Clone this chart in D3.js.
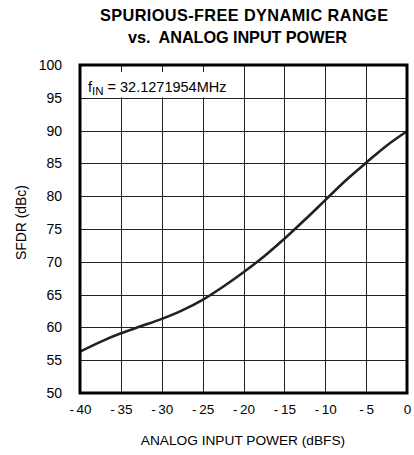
<!DOCTYPE html>
<html><head><meta charset="utf-8">
<script src="https://cdn.jsdelivr.net/npm/d3@7"></script>
<style>
html,body{margin:0;padding:0;background:#fff;}
svg{display:block;font-family:"Liberation Sans",Arial,Helvetica,sans-serif;}
</style></head>
<body>
<svg id="c" width="414" height="455"></svg>
<script>
const inputPower = [-40,-37.5,-35,-32.5,-30,-27.5,-25,-22.5,-20,-17.5,-15,-12.5,-10,-7.5,-5,-2.5,0];
const sfdr = [56.3,57.8,59.1,60.2,61.3,62.6,64.2,66.2,68.4,70.8,73.5,76.4,79.4,82.4,85.1,87.7,89.9];
const xTicks = [-40,-35,-30,-25,-20,-15,-10,-5,0];
const yTicks = [50,55,60,65,70,75,80,85,90,95,100];
const titleLines = ["SPURIOUS-FREE DYNAMIC RANGE","vs.  ANALOG INPUT POWER"];
const xTitle = "ANALOG INPUT POWER (dBFS)";
const yTitle = "SFDR (dBc)";

const svg = d3.select("#c");
const L=80, R=407, T=65, B=393;
const x = d3.scaleLinear().domain([-40,0]).range([L,R]);
const y = d3.scaleLinear().domain([50,100]).range([B,T]);

// title
const tPos = [{cx:244, w:288, by:20.5},{cx:237.5, w:219, by:43}];
svg.append("g").selectAll("text").data(titleLines).join("text")
  .attr("x",(d,i)=>tPos[i].cx).attr("y",(d,i)=>tPos[i].by)
  .attr("text-anchor","middle").attr("font-weight","bold").attr("font-size",16.3)
  .attr("textLength",(d,i)=>tPos[i].w).attr("lengthAdjust","spacing")
  .attr("xml:space","preserve").style("white-space","pre")
  .attr("fill","#000").text(d=>d);

// grid
const g = svg.append("g");
g.selectAll("line.v").data(xTicks).join("line").attr("class","v")
  .attr("x1",d=>Math.round(x(d))+0.5).attr("x2",d=>Math.round(x(d))+0.5)
  .attr("y1",T).attr("y2",B).attr("stroke","#222").attr("stroke-width",1);
g.selectAll("line.h").data(yTicks).join("line").attr("class","h")
  .attr("y1",d=>Math.round(y(d))+0.5).attr("y2",d=>Math.round(y(d))+0.5)
  .attr("x1",L).attr("x2",R).attr("stroke","#222").attr("stroke-width",1);

// label box
const boxX1 = L, boxX2 = x(-20)-1, boxY1 = T+7, boxY2 = y(95);
svg.append("rect").attr("x",boxX1+1).attr("y",boxY1).attr("width",boxX2-boxX1-1).attr("height",boxY2-boxY1-0.5).attr("fill","#fff");
const lab = svg.append("text").attr("x",88).attr("y",92).attr("font-size",14.5).attr("fill","#000");
lab.append("tspan").text("f");
lab.append("tspan").attr("font-size",11.5).attr("dy",3).text("IN");
lab.append("tspan").attr("dy",-3).text(" = 32.1271954MHz");

// curve
const line = d3.line().x((d,i)=>x(inputPower[i])).y(d=>y(d)).curve(d3.curveMonotoneX);
svg.append("path").datum(sfdr).attr("d",line).attr("fill","none").attr("stroke","#222").attr("stroke-width",2.6);

// frame
svg.append("rect").attr("x",L).attr("y",T).attr("width",R-L).attr("height",B-T)
  .attr("fill","none").attr("stroke","#000").attr("stroke-width",3);

// axes (labels via d3 axes, no domain/ticks lines)
const xa = svg.append("g").attr("transform",`translate(0,${B})`)
  .call(d3.axisBottom(x).tickValues(xTicks).tickSize(0).tickPadding(11).tickFormat(d=>d<0?"-\u2009"+Math.abs(d):d));
xa.select(".domain").remove();
xa.selectAll("text").attr("font-size",13.5).attr("font-family","Liberation Sans, Arial, sans-serif").attr("fill","#000");
const ya = svg.append("g").attr("transform",`translate(${L},0)`)
  .call(d3.axisLeft(y).tickValues(yTicks).tickSize(0).tickPadding(18));
ya.select(".domain").remove();
ya.selectAll("text").attr("font-size",14).attr("font-family","Liberation Sans, Arial, sans-serif").attr("fill","#000");

svg.append("text").attr("x",243).attr("y",445).attr("text-anchor","middle")
  .attr("font-size",13.7).attr("fill","#000").text(xTitle);
svg.append("text").attr("transform",`translate(25.5,222.5) rotate(-90)`).attr("text-anchor","middle")
  .attr("font-size",14).attr("textLength",75).attr("lengthAdjust","spacing").attr("fill","#000").text(yTitle);
</script>
</body></html>
